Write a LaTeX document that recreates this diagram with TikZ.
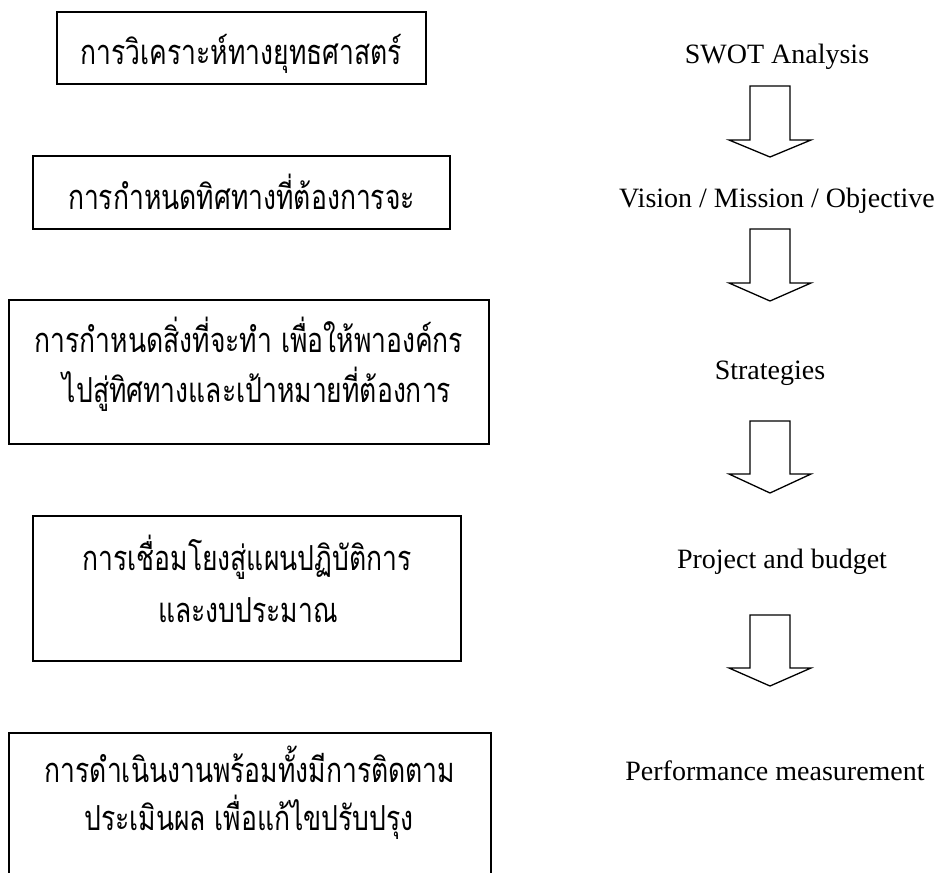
\documentclass[tikz,border=0pt]{standalone}
\usepackage{fontspec}
\usepackage{graphicx}
\setmainfont{Liberation Serif}
\newfontfamily\thaifont[Script=Thai]{Loma}
\newcommand\thl[1]{\scalebox{1}[1.3]{\thaifont\fontsize{26.5}{30}\selectfont #1}}
\newcommand\blockarr[3]{%
  \draw[blockarrow] (750,#1) -- (750,#2) -- (729,#2) -- (770,#3) -- (811,#2) -- (790,#2) -- (790,#1) -- cycle;}
\begin{document}
\begin{tikzpicture}[x=1pt,y=-1pt,
  boxline/.style={draw, line width=1.6pt, inner sep=0pt},
  thtext/.style={inner sep=0pt, anchor=base},
  entext/.style={inner sep=0pt, anchor=base, font=\fontsize{28}{34}\selectfont},
  blockarrow/.style={draw, line width=1.3pt, line join=miter}]
\useasboundingbox (0,0) rectangle (940,873);
% left boxes
\node[boxline, minimum width=369pt, minimum height=72pt] (b1) at (241.5,48) {};
\node[boxline, minimum width=417pt, minimum height=73pt] (b2) at (241.5,192.5) {};
\node[boxline, minimum width=480pt, minimum height=144pt] (b3) at (249,372) {};
\node[boxline, minimum width=428pt, minimum height=145pt] (b4) at (247,588.5) {};
\coordinate (b5sw) at (9,873);
\coordinate (b5nw) at (9,733);
\coordinate (b5ne) at (491,733);
\coordinate (b5se) at (491,873);
\draw[line width=1.6pt] (b5sw) -- (b5nw) -- (b5ne) -- (b5se);
% Thai texts
\node[thtext] (t1) at (241.5,64) {\thl{การวิเคราะห์ทางยุทธศาสตร์}};
\node[thtext] (t2) at (241.5,209) {\thl{การกำหนดทิศทางที่ต้องการจะ}};
\node[thtext] (t3a) at (249,352) {\thl{การกำหนดสิ่งที่จะทำ เพื่อให้พาองค์กร}};
\node[thtext] (t3b) at (257,402) {\thl{ไปสู่ทิศทางและเป้าหมายที่ต้องการ}};
\node[thtext] (t4a) at (247,570) {\thl{การเชื่อมโยงสู่แผนปฏิบัติการ}};
\node[thtext] (t4b) at (248,622) {\thl{และงบประมาณ}};
\node[thtext] (t5a) at (250,782) {\thl{การดำเนินงานพร้อมทั้งมีการติดตาม}};
\node[thtext] (t5b) at (249,830) {\thl{ประเมินผล เพื่อแก้ไขปรับปรุง}};
% right column
\node[entext] (r1) at (777,63) {SWOT Analysis};
\node[entext] (r2) at (777,207) {Vision / Mission / Objective};
\node[entext] (r3) at (770,379) {Strategies};
\node[entext] (r4) at (782,568) {Project and budget};
\node[entext] (r5) at (775,780) {Performance measurement};
% block arrows
\blockarr{86}{140}{157}
\blockarr{229}{283}{301}
\blockarr{421}{474}{493}
\blockarr{615}{668}{686}
\end{tikzpicture}
\end{document}
